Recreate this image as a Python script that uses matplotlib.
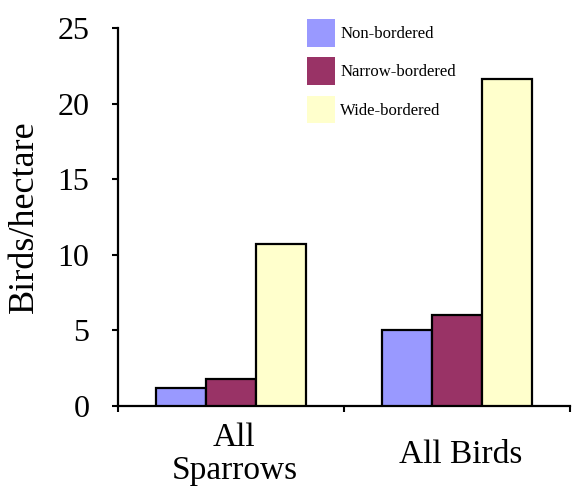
import matplotlib
import numpy as np

matplotlib.use("Agg")

from matplotlib import pyplot as plt  # noqa: E402
from matplotlib.patches import Patch  # noqa: E402

categories = ["All\nSparrows", "All Birds"]
series_names = ["Non-bordered", "Narrow-bordered", "Wide-bordered"]
non_bordered = [1.2, 5.0]
narrow_bordered = [1.8, 6.0]
wide_bordered = [10.7, 21.6]
y_ticks = [0, 5, 10, 15, 20, 25]

colors = ["#9999ff", "#993366", "#ffffcc"]

plt.rcParams["font.family"] = ["Liberation Serif", "DejaVu Serif"]

fig = plt.figure(figsize=(5.72, 4.93), dpi=100)
ax = fig.add_axes([118 / 572, 87 / 493, 452 / 572, 378 / 493])

centers = np.arange(len(categories)) + 0.5
bar_width = 0.22
series = [non_bordered, narrow_bordered, wide_bordered]
for i, (values, color) in enumerate(zip(series, colors)):
    ax.bar(centers + (i - 1) * bar_width, values, width=bar_width,
           color=color, edgecolor="black", linewidth=1.6, zorder=3)

ax.set_xlim(0, len(categories))
ax.set_ylim(0, 25)
ax.set_yticks(y_ticks)
ax.set_yticklabels([str(t) for t in y_ticks], fontsize=23)
ax.set_xticks(np.arange(len(categories) + 1))
ax.set_xticklabels([])
ax.tick_params(axis="both", direction="out", length=4.5, width=1.5)
ax.tick_params(axis="y", pad=16)

for c, label in zip(centers, categories):
    ax.text(c + 0.015, -0.128, label, transform=ax.get_xaxis_transform(),
            ha="center", va="center", fontsize=24, linespacing=1.1)

ax.set_ylabel("Birds/hectare", fontsize=26)
ax.yaxis.set_label_coords(-0.17, 0.5)

for side in ["top", "right"]:
    ax.spines[side].set_visible(False)
for side in ["left", "bottom"]:
    ax.spines[side].set_linewidth(1.6)

handles = [Patch(facecolor=c, edgecolor="none") for c in colors]
fig.legend(handles, series_names, loc="upper left",
           bbox_to_anchor=(307 / 572, 1 - 19 / 493), frameon=False,
           fontsize=12, handlelength=1.7, handleheight=2.2,
           handletextpad=0.3, labelspacing=0.62, borderpad=0,
           borderaxespad=0)

fig.savefig("out.png", dpi=100)
plt.close(fig)
